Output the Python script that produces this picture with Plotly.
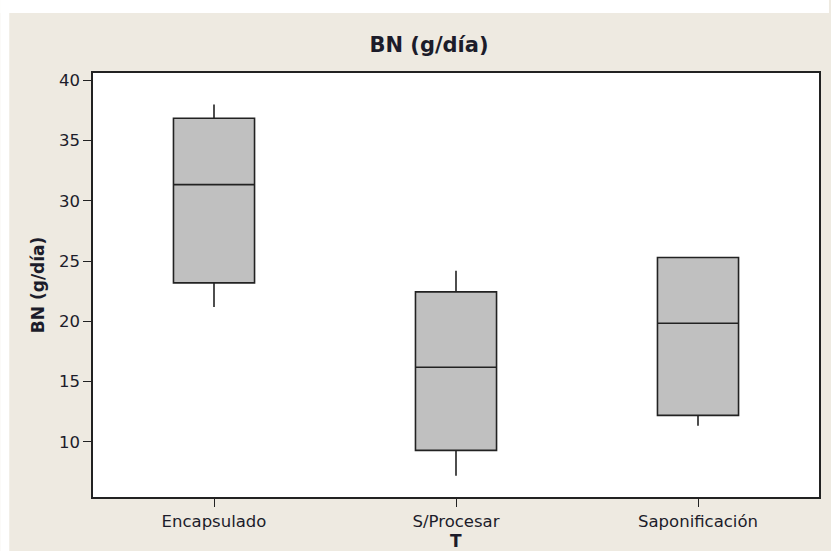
import plotly.graph_objects as go

# Box summary statistics of BN (g/día) by treatment T
categories = ["Encapsulado", "S/Procesar", "Saponificación"]
lower_whisker = [21.2, 7.2, 11.35]
q1_values = [23.2, 9.3, 12.2]
medians = [31.35, 16.2, 19.85]
q3_values = [36.85, 22.45, 25.3]
upper_whisker = [38.0, 24.2, 25.3]

y_ticks = [10, 15, 20, 25, 30, 35, 40]

W, H = 831, 551
ML, MR, MT, MB = 93, 10, 73, 54
PW, PH = W - ML - MR, H - MT - MB

BEIGE = "rgb(238,234,225)"
TEXT = "#1c1c2a"
FONT = "DejaVu Sans, Verdana, sans-serif"


def px_x(px):
    return (px - ML) / PW


def px_y(py):
    return (H - MB - py) / PH


fig = go.Figure()
fig.add_trace(
    go.Box(
        x=categories,
        q1=q1_values,
        median=medians,
        q3=q3_values,
        lowerfence=lower_whisker,
        upperfence=upper_whisker,
        width=0.335,
        fillcolor="#c0c0c0",
        line=dict(color="#222222", width=1.6),
        whiskerwidth=0,
        boxpoints=False,
        hoverinfo="skip",
        showlegend=False,
    )
)

axis_style = dict(
    showgrid=False,
    zeroline=False,
    showline=True,
    linecolor="#222222",
    linewidth=1.6,
    mirror=True,
    ticks="outside",
    ticklen=8,
    tickwidth=1.4,
    tickcolor="#222222",
    tickfont=dict(family=FONT, size=16.5, color=TEXT),
)

fig.update_layout(
    width=W,
    height=H,
    margin=dict(l=ML, r=MR, t=MT, b=MB, pad=0),
    paper_bgcolor=BEIGE,
    plot_bgcolor="white",
    font=dict(family=FONT, size=16.5, color=TEXT),
    title=dict(
        text="<b>BN (g/día)</b>",
        x=429 / W,
        xanchor="center",
        y=1 - 45 / H,
        yanchor="middle",
        xref="container",
        yref="container",
        font=dict(family=FONT, size=21, color=TEXT),
    ),
    xaxis=dict(type="category", range=[-0.5, 2.5], **axis_style),
    yaxis=dict(range=[5.43, 40.61], tickvals=y_ticks, **axis_style),
    annotations=[
        dict(
            text="<b>BN (g/día)</b>",
            xref="paper",
            yref="paper",
            x=px_x(38),
            y=0.5,
            textangle=-90,
            showarrow=False,
            xanchor="center",
            yanchor="middle",
            font=dict(family=FONT, size=17, color=TEXT),
        ),
        dict(
            text="<b>T</b>",
            xref="paper",
            yref="paper",
            x=px_x(457),
            y=px_y(540.5),
            showarrow=False,
            xanchor="center",
            yanchor="middle",
            font=dict(family=FONT, size=17, color=TEXT),
        ),
    ],
    shapes=[
        # white strips framing the beige panel on top and left
        dict(type="rect", xref="paper", yref="paper", layer="above",
             x0=px_x(0), x1=px_x(W), y0=px_y(13), y1=px_y(0),
             fillcolor="white", line=dict(width=0)),
        dict(type="rect", xref="paper", yref="paper", layer="above",
             x0=px_x(0), x1=px_x(9), y0=px_y(H), y1=px_y(0),
             fillcolor="white", line=dict(width=0)),
    ],
)

fig.write_html("out.html")
